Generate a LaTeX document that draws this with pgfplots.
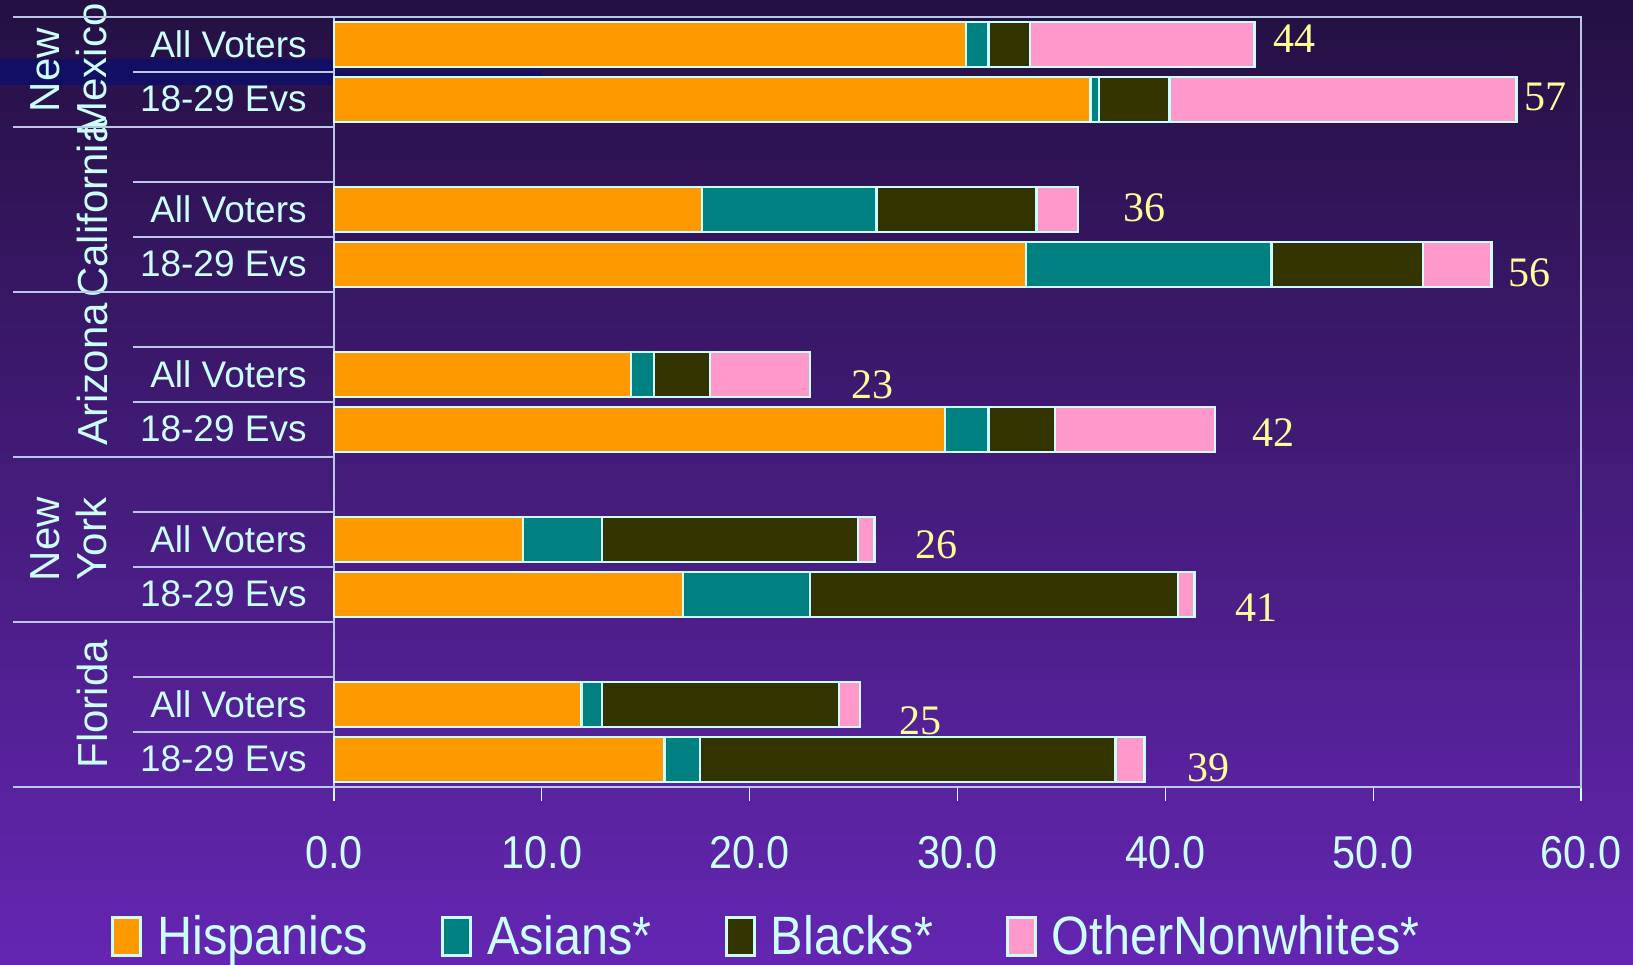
\documentclass[border=0pt]{standalone}
\usepackage{fontspec}
\setmainfont{Liberation Sans}
\newfontfamily\narrowfont[FakeStretch=0.9]{Liberation Sans}
\newfontfamily\seriffont{Liberation Serif}
\usepackage{pgfplots}
\usepackage{pgfplotstable}
\pgfplotsset{compat=1.18}

\definecolor{hisp}{HTML}{FF9900}
\definecolor{asian}{HTML}{008080}
\definecolor{blk}{HTML}{333300}
\definecolor{other}{HTML}{FF99CC}
\definecolor{txt}{HTML}{CCFFFF}
\definecolor{val}{HTML}{FFFF99}
\definecolor{gridl}{RGB}{185,200,230}
\definecolor{bgtop}{RGB}{36,16,66}
\definecolor{bgbot}{RGB}{100,38,178}
\definecolor{navy}{RGB}{14,14,105}

\pgfplotstableread{
row H A B O
0 30.4 1.1 2.0 10.8
1 36.4 0.4 3.4 16.7
3 17.7 8.4 7.7 2.0
4 33.3 11.8 7.3 3.3
6 14.3 1.1 2.7 4.8
7 29.4 2.1 3.2 7.7
9 9.1 3.8 12.3 0.8
10 16.8 6.1 17.7 0.8
12 11.9 1.0 11.4 1.0
13 15.9 1.7 20.0 1.4
}\datatable

\begin{document}
\begin{tikzpicture}
\shade[top color=bgtop, bottom color=bgbot] (-167pt,-88.65pt) rectangle (649.5pt,393.35pt);
\path[use as bounding box] (-167pt,-88.65pt) rectangle (649.5pt,393.35pt);
\fill[navy, opacity=0.85] (-167pt,350.85pt) rectangle (0pt,363.85pt);
\fill[navy, opacity=0.85] (0pt,355.35pt) rectangle (104pt,358pt);
\begin{axis}[
  at={(0,0)}, anchor=south west,
  scale only axis, width=623.5pt, height=385pt,
  xbar stacked, bar width=22.5pt,
  xmin=0, xmax=60, ymin=-0.5, ymax=13.5,
  y dir=reverse, clip=false,
  axis line style={draw=gridl, line width=0.8pt},
  xtick={0,10,20,30,40,50,60},
  xticklabels={0.0,10.0,20.0,30.0,40.0,50.0,60.0},
  xtick pos=bottom,
  tick align=outside, major tick length=7pt,
  xtick style={draw=txt, line width=0.6pt},
  xticklabel style={font=\narrowfont\fontsize{23}{23}\selectfont, text=txt, inner sep=0pt, anchor=north, yshift=-17.6pt},
  ytick={0,1,3,4,6,7,9,10,12,13},
  yticklabels={All Voters,18-29 Evs,All Voters,18-29 Evs,All Voters,18-29 Evs,All Voters,18-29 Evs,All Voters,18-29 Evs},
  ytick style={draw=none},
  yticklabel style={font=\fontsize{18.5}{18.5}\selectfont, text=txt, inner sep=0pt, anchor=east, xshift=-6.5pt},
  legend columns=4,
  legend cell align=left,
  legend style={at={(-0.1788,-0.1939)}, anchor=west, draw=none, fill=none, inner sep=0pt,
    font=\narrowfont\fontsize{27}{27}\selectfont, text=txt,
    nodes={inner sep=2pt},
    /tikz/every odd column/.append style={column sep=5.5pt},
    /tikz/every even column/.append style={column sep=34.5pt}},
  legend image code/.code={\draw[#1, line width=1.5pt] (0pt,-9.5pt) rectangle (14pt,9.5pt);},
]
\addplot[fill=hisp, draw=txt, line width=1.2pt] table[x=H, y=row] {\datatable};
\addplot[fill=asian, draw=txt, line width=1.2pt] table[x=A, y=row] {\datatable};
\addplot[fill=blk, draw=txt, line width=1.2pt] table[x=B, y=row] {\datatable};
\addplot[fill=other, draw=txt, line width=1.2pt] table[x=O, y=row] {\datatable};
\legend{Hispanics, Asians*, Blacks*, OtherNonwhites*}

% separators
\pgfplotsinvokeforeach{-0.5,1.5,4.5,7.5,10.5,13.5}{
  \draw[gridl, line width=1pt] (axis cs:0,#1) -- ++(-160.5pt,0pt);
}
\pgfplotsinvokeforeach{0.5,2.5,3.5,5.5,6.5,8.5,9.5,11.5,12.5}{
  \draw[gridl, line width=1pt] (axis cs:0,#1) -- ++(-100.5pt,0pt);
}

% group labels
\path (axis cs:0,0.47) ++(-132.75pt,0pt) node[rotate=90, text=txt, align=center, font=\fontsize{21}{23.5}\selectfont, inner sep=0pt] {New\\Mexico};
\path (axis cs:0,3) ++(-121pt,0pt) node[rotate=90, text=txt, font=\fontsize{21}{23.5}\selectfont, inner sep=0pt] {California};
\path (axis cs:0,6) ++(-121pt,0pt) node[rotate=90, text=txt, font=\fontsize{21}{23.5}\selectfont, inner sep=0pt] {Arizona};
\path (axis cs:0,9) ++(-132.75pt,0pt) node[rotate=90, text=txt, align=center, font=\fontsize{21}{23.5}\selectfont, inner sep=0pt] {New\\York};
\path (axis cs:0,12) ++(-121pt,0pt) node[rotate=90, text=txt, font=\fontsize{21}{23.5}\selectfont, inner sep=0pt] {Florida};

% totals
\tikzset{tot/.style={font=\seriffont\fontsize{21}{21}\selectfont, text=val, inner sep=0pt}}
\node[tot] at (axis cs:46.2,-0.1) {44};
\node[tot] at (axis cs:58.3,0.96) {57};
\node[tot] at (axis cs:39.0,2.98) {36};
\node[tot] at (axis cs:57.5,4.16) {56};
\node[tot] at (axis cs:25.9,6.19) {23};
\node[tot] at (axis cs:45.2,7.06) {42};
\node[tot] at (axis cs:29.0,9.10) {26};
\node[tot] at (axis cs:44.4,10.24) {41};
\node[tot] at (axis cs:28.2,12.30) {25};
\node[tot] at (axis cs:42.1,13.16) {39};
\end{axis}
\end{tikzpicture}
\end{document}
